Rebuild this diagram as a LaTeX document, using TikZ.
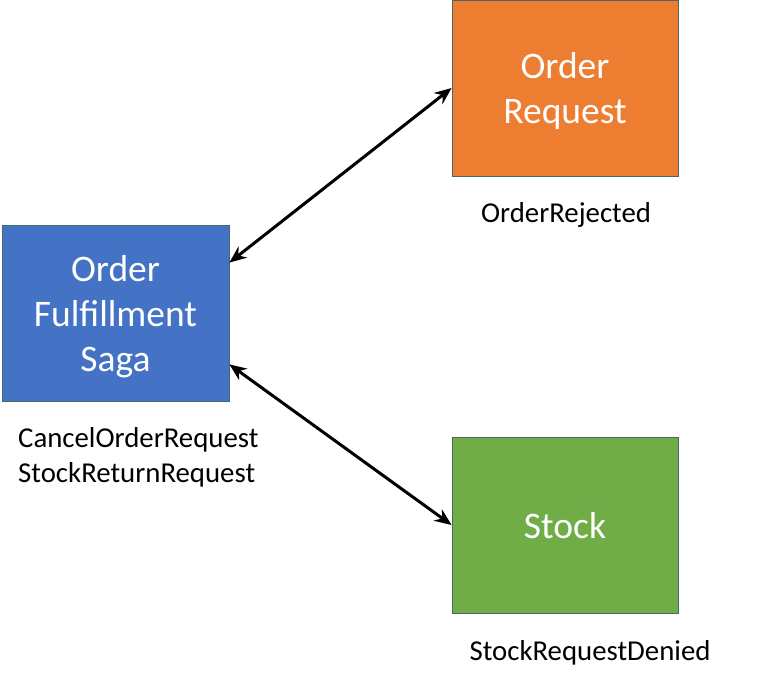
\documentclass[tikz,border=0pt]{standalone}
\usepackage{fontspec}
\setmainfont{Carlito}
\usetikzlibrary{arrows.meta}
\definecolor{cOrange}{HTML}{ED7D31}
\definecolor{cBlue}{HTML}{4472C4}
\definecolor{cGreen}{HTML}{70AD47}
\definecolor{cEdge}{HTML}{46686A}
\newcommand{\boxtext}[1]{\raisebox{-4pt}[\height][\depth]{\begin{tabular}{@{}c@{}}#1\end{tabular}}}
\begin{document}
\begin{tikzpicture}[x=1pt,y=-1pt,
  boxnode/.style={draw=cEdge, line width=0.8pt, text=white,
    inner sep=0pt, font=\fontsize{37.5}{45}\selectfont},
  lbl/.style={inner sep=0pt, anchor=base, font=\fontsize{28.8}{35}\selectfont},
  link/.style={line width=3pt, {Stealth[length=17pt,width=14pt]}-{Stealth[length=17pt,width=14pt]}}]
\useasboundingbox (0,0) rectangle (778,686);
\node[boxnode, fill=cOrange, minimum width=226pt, minimum height=176pt] (req) at (565,88) {\boxtext{Order\\Request}};
\node[boxnode, fill=cBlue, minimum width=227pt, minimum height=176pt] (saga) at (115.5,313) {\boxtext{Order\\Fulfillment\\Saga}};
\node[boxnode, fill=cGreen, minimum width=226pt, minimum height=176pt] (stock) at (565,525) {\boxtext{Stock}};
\node[lbl] (rej) at (566,222) {OrderRejected};
\node[lbl, anchor=base west] (cancel) at (18,447) {CancelOrderRequest};
\node[lbl, anchor=base west] (ret) at (18,482) {StockReturnRequest};
\node[lbl] (denied) at (590,660) {StockRequestDenied};
\draw[link] ([yshift=-38pt]saga.north east) -- (req.west);
\draw[link] ([yshift=37pt]saga.south east) -- (stock.west);
\end{tikzpicture}
\end{document}
